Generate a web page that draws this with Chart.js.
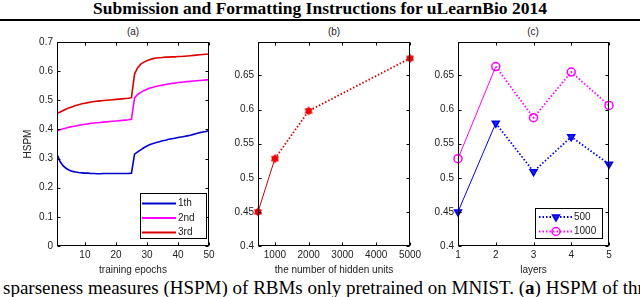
<!DOCTYPE html>
<html>
<head>
<meta charset="utf-8">
<script src="https://cdn.jsdelivr.net/npm/chart.js@4.4.0/dist/chart.umd.min.js"></script>
<style>
  body { margin: 0; width: 640px; height: 297px; overflow: hidden; background: #fff; position: relative; }
  #hdr { position: absolute; left: 0; top: 0; width: 640px; text-align: center; font: bold 17.5px "Liberation Serif", serif; line-height: 17px; }
  #rule { position: absolute; left: 0; top: 19px; width: 640px; height: 2px; background: #000; }
  .ptitle { position: absolute; top: 26px; width: 40px; margin-left: -20px; text-align: center; font: 10px "Liberation Sans", sans-serif; line-height: 12px; color: #222; }
  .wrap { position: absolute; top: 22px; height: 254px; }
  #cap { position: absolute; left: 3px; top: 278px; white-space: nowrap; font: 19px "Liberation Serif", serif; line-height: 19px; }
</style>
</head>
<body>
<div id="hdr">Submission and Formatting Instructions for uLearnBio 2014</div>
<div id="rule"></div>
<div class="ptitle" style="left:133px">(a)</div>
<div class="ptitle" style="left:334px">(b)</div>
<div class="ptitle" style="left:533px">(c)</div>
<div class="wrap" style="left:0px;width:216px"><canvas id="chartA" width="216" height="254"></canvas></div>
<div class="wrap" style="left:216px;width:205px"><canvas id="chartB" width="205" height="254"></canvas></div>
<div class="wrap" style="left:421px;width:218px"><canvas id="chartC" width="218" height="254"></canvas></div>
<div id="cap">sparseness measures (HSPM) of RBMs only pretrained on MNIST. (<b>a</b>) HSPM of three layers</div>
<script>
// (a) HSPM per training epoch for each layer
const epochs = [1,2,3,4,5,6,7,8,9,10,11,12,13,14,15,16,17,18,19,20,21,22,23,24,25,
                26,27,28,29,30,31,32,33,34,35,36,37,38,39,40,41,42,43,44,45,46,47,48,49,50];
const hspm1th = [0.315,0.290,0.275,0.266,0.260,0.256,0.254,0.252,0.251,0.250,0.250,0.249,0.249,0.248,0.248,
                 0.249,0.249,0.249,0.249,0.249,0.249,0.249,0.249,0.249,0.250,
                 0.315,0.323,0.330,0.337,0.343,0.348,0.352,0.355,0.358,0.361,0.363,0.366,0.368,0.370,0.372,
                 0.374,0.376,0.378,0.380,0.383,0.386,0.389,0.391,0.393,0.396];
const hspm2nd = [0.395,0.399,0.402,0.405,0.408,0.410,0.412,0.414,0.416,0.418,0.419,0.421,0.422,0.423,0.424,
                 0.425,0.426,0.427,0.428,0.429,0.430,0.431,0.432,0.433,0.435,
                 0.508,0.520,0.527,0.533,0.538,0.542,0.545,0.548,0.550,0.552,0.554,0.556,0.558,0.559,0.561,
                 0.562,0.563,0.564,0.565,0.566,0.567,0.568,0.569,0.570,0.571];
const hspm3rd = [0.455,0.460,0.465,0.470,0.474,0.478,0.482,0.485,0.488,0.490,0.492,0.494,0.496,0.497,0.498,
                 0.499,0.500,0.501,0.502,0.503,0.504,0.505,0.506,0.507,0.509,
                 0.590,0.612,0.624,0.631,0.636,0.640,0.643,0.645,0.646,0.647,0.648,0.648,0.649,0.649,0.650,
                 0.650,0.651,0.652,0.653,0.654,0.655,0.656,0.657,0.658,0.659];
const seriesA = ['1th', '2nd', '3rd'];
const xTicksA = [10, 20, 30, 40, 50];
const yTicksA = [0, 0.1, 0.2, 0.3, 0.4, 0.5, 0.6, 0.7];

// (b) HSPM vs number of hidden units
const hiddenUnits = [500, 1000, 2000, 5000];
const hspmUnits = [0.450, 0.528, 0.598, 0.675];
const xTicksB = [1000, 2000, 3000, 4000, 5000];

// (c) HSPM per layer for two network sizes
const layers = [1, 2, 3, 4, 5];
const hspm500 = [0.450, 0.580, 0.509, 0.560, 0.520];
const hspm1000 = [0.528, 0.663, 0.588, 0.655, 0.606];
const seriesC = ['500', '1000'];
const xTicksC = [1, 2, 3, 4, 5];
const yTicksBC = [0.4, 0.45, 0.5, 0.55, 0.6, 0.65];

Chart.defaults.font.family = '"Liberation Sans", Arial, sans-serif';
Chart.defaults.font.size = 10;
Chart.defaults.color = '#222';
Chart.defaults.animation = false;

const pts = (xs, ys) => xs.map((x, i) => ({x: x, y: ys[i]}));
const fmt = v => String(+Number(v).toFixed(2));

// box around the axes with inward tick marks, like matlab
const frame = {
    id: 'frame',
    afterDatasetsDraw(chart) {
        const {ctx, chartArea: a, scales} = chart;
        const L = Math.round(a.left) + 0.5, R = Math.round(a.right) - 0.5;
        const T = Math.round(a.top) + 0.5, B = Math.round(a.bottom) - 0.5;
        ctx.save();
        ctx.strokeStyle = '#000';
        ctx.lineWidth = 1;
        ctx.strokeRect(L, T, R - L, B - T);
        ctx.beginPath();
        scales.x.ticks.forEach(t => {
            const px = Math.round(scales.x.getPixelForValue(t.value)) + 0.5;
            ctx.moveTo(px, B); ctx.lineTo(px, B - 3);
            ctx.moveTo(px, T); ctx.lineTo(px, T + 3);
        });
        scales.y.ticks.forEach(t => {
            const py = Math.round(scales.y.getPixelForValue(t.value)) + 0.5;
            ctx.moveTo(L, py); ctx.lineTo(L + 3, py);
            ctx.moveTo(R, py); ctx.lineTo(R - 3, py);
        });
        ctx.stroke();
        ctx.restore();
    }
};

// legend box placed inside the axes
const boxLegend = {
    id: 'boxLegend',
    afterDraw(chart, args, o) {
        if (!o.box) return;
        const ctx = chart.ctx;
        const [bx, by, bw, bh] = o.box;
        ctx.save();
        ctx.fillStyle = '#fff';
        ctx.fillRect(bx, by, bw, bh);
        ctx.strokeStyle = '#000';
        ctx.lineWidth = 1;
        ctx.strokeRect(bx + 0.5, by + 0.5, bw, bh);
        chart.data.datasets.forEach((ds, i) => {
            const y = o.rows[i];
            ctx.strokeStyle = ds.borderColor;
            ctx.lineWidth = o.lineWidth;
            ctx.setLineDash(o.dash);
            ctx.beginPath();
            ctx.moveTo(o.line[0], y);
            ctx.lineTo(o.line[1], y);
            ctx.stroke();
            ctx.setLineDash([]);
            if (o.marker) {
                ctx.fillStyle = ds.pointBackgroundColor;
                ctx.strokeStyle = ds.pointBorderColor;
                ctx.lineWidth = ds.pointBorderWidth;
                Chart.helpers.drawPoint(ctx, {
                    pointStyle: ds.pointStyle, rotation: ds.pointRotation || 0,
                    radius: ds.pointRadius, borderWidth: ds.pointBorderWidth
                }, (o.line[0] + o.line[1]) / 2, y);
            }
            ctx.fillStyle = '#222';
            ctx.font = '10px "Liberation Sans", Arial, sans-serif';
            ctx.textBaseline = 'middle';
            ctx.textAlign = 'left';
            ctx.fillText(ds.label, o.textX, y);
        });
        ctx.restore();
    }
};

function axes(xMin, xMax, xTicks, yMin, yMax, yTicks, yWidth, xTitle, yTitle) {
    return {
        x: {
            type: 'linear', min: xMin, max: xMax,
            grid: {display: false, drawTicks: false}, border: {display: false},
            afterBuildTicks: s => { s.ticks = xTicks.map(v => ({value: v})); },
            afterFit: s => { s.height = 30; s.paddingLeft = 0; s.paddingRight = 0; },
            ticks: {autoSkip: false, maxRotation: 0, padding: 3, callback: v => String(v)},
            title: {display: true, text: xTitle, padding: {top: 0, bottom: 0}}
        },
        y: {
            type: 'linear', min: yMin, max: yMax,
            grid: {display: false, drawTicks: false}, border: {display: false},
            afterBuildTicks: s => { s.ticks = yTicks.map(v => ({value: v})); },
            afterFit: s => { s.width = yWidth; s.paddingTop = 0; s.paddingBottom = 0; },
            ticks: {autoSkip: false, padding: 4, callback: fmt},
            title: {display: !!yTitle, text: yTitle, padding: {top: 22, bottom: 0}}
        }
    };
}

// (a)
const colorsA = ['#0000cc', '#ff00ff', '#dd0000'];
const valuesA = [hspm1th, hspm2nd, hspm3rd];
new Chart(document.getElementById('chartA'), {
    type: 'line',
    data: {
        datasets: seriesA.map((name, i) => ({
            label: name,
            data: pts(epochs, valuesA[i]),
            borderColor: colorsA[i],
            borderWidth: 1.6,
            pointRadius: 0,
            tension: 0
        }))
    },
    options: {
        responsive: false,
        layout: {padding: {top: 20, right: 7, left: 0, bottom: 0}},
        plugins: {
            legend: {display: false}, tooltip: {enabled: false},
            boxLegend: {box: [140, 171, 66, 45], rows: [181.5, 196, 210.5], line: [142, 176], textX: 178,
                        lineWidth: 2, dash: [], marker: false}
        },
        scales: axes(1, 50, xTicksA, 0, 0.7, yTicksA, 57, 'training epochs', 'HSPM')
    },
    plugins: [frame, boxLegend]
});

// pentagram marker for (b)
function starMarker(size, color) {
    const c = document.createElement('canvas');
    c.width = size; c.height = size;
    const g = c.getContext('2d');
    const cx = size / 2, cy = size / 2, ro = size / 2, ri = size / 4;
    g.beginPath();
    for (let k = 0; k < 12; k++) {
        const r = k % 2 === 0 ? ro : ri;
        const ang = -Math.PI / 2 + k * Math.PI / 6;
        g.lineTo(cx + r * Math.cos(ang), cy + r * Math.sin(ang));
    }
    g.closePath();
    g.fillStyle = color;
    g.fill();
    g.beginPath();
    g.arc(cx, cy, size * 0.33, 0, Math.PI * 2);
    g.fill();
    return c;
}

// (b)
new Chart(document.getElementById('chartB'), {
    type: 'line',
    data: {
        datasets: [{
            label: 'HSPM',
            data: pts(hiddenUnits, hspmUnits),
            borderColor: '#cc0000',
            borderWidth: 1.8,
            borderDash: [1.5, 2],
            segment: {
                borderDash: c => c.p0DataIndex === 0 ? [] : [1.5, 2],
                borderWidth: c => c.p0DataIndex === 0 ? 1 : 1.8
            },
            pointStyle: starMarker(10, '#ee0000'),
            pointRadius: 5,
            clip: false,
            tension: 0
        }]
    },
    options: {
        responsive: false,
        layout: {padding: {top: 20, right: 11, left: 0, bottom: 0}},
        plugins: {legend: {display: false}, tooltip: {enabled: false}},
        scales: axes(500, 5000, xTicksB, 0.4, 0.699, yTicksBC, 42, 'the number of hidden units', '')
    },
    plugins: [frame]
});

// (c)
const colorsC = ['#0000ee', '#ff00ff'];
const valuesC = [hspm500, hspm1000];
new Chart(document.getElementById('chartC'), {
    type: 'line',
    data: {
        datasets: seriesC.map((name, i) => ({
            label: name,
            data: pts(layers, valuesC[i]),
            borderColor: colorsC[i],
            borderWidth: 1.8,
            borderDash: [1.5, 2],
            segment: {
                borderDash: c => c.p0DataIndex === 0 ? [] : [1.5, 2],
                borderWidth: c => c.p0DataIndex === 0 ? 1 : 1.8
            },
            pointStyle: i === 0 ? 'triangle' : 'circle',
            pointRotation: i === 0 ? 180 : 0,
            pointRadius: 4,
            pointBorderWidth: 1.5,
            pointBorderColor: colorsC[i],
            pointBackgroundColor: i === 0 ? '#2222ee' : 'rgba(255,255,255,0)',
            clip: false,
            tension: 0
        }))
    },
    options: {
        responsive: false,
        layout: {padding: {top: 20, right: 30, left: 0, bottom: 0}},
        plugins: {
            legend: {display: false}, tooltip: {enabled: false},
            boxLegend: {box: [114, 186, 67, 30], rows: [195, 209.5], line: [118, 152], textX: 153,
                        lineWidth: 1.8, dash: [1.5, 2], marker: true}
        },
        scales: axes(1, 5, xTicksC, 0.4, 0.699, yTicksBC, 37, 'layers', '')
    },
    plugins: [frame, boxLegend]
});
</script>
</body>
</html>
